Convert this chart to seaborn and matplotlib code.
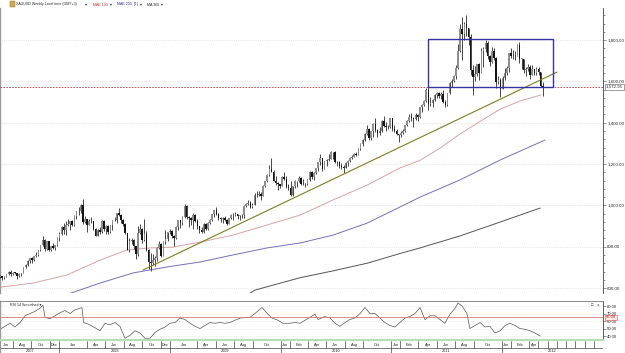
import matplotlib
matplotlib.use('Agg')
import matplotlib.pyplot as plt
from matplotlib.patches import Rectangle
from matplotlib.ticker import MultipleLocator
import numpy as np
import pandas as pd
import seaborn as sns

sns.set_style('white')
plt.rcParams['font.family'] = ['Liberation Sans', 'DejaVu Sans']

# weekly XAUUSD candles, week of 2007-06-11 .. week of 2012-05-14
first_week = pd.Timestamp('2007-06-11')
first_open = 648

close = [655, 656, 650, 655, 666, 680, 668, 674, 673, 660, 669, 673, 700, 710, 733, 743, 738, 755, 762, 784,
         806, 832, 787, 826, 783, 802, 795, 808, 842, 862,
         895, 882, 905, 910, 922, 905, 948, 972, 972, 1000, 920, 933, 905, 925, 923, 887, 853, 882, 873, 926,
         885, 898, 870, 903, 928, 930, 963, 955, 927, 912, 865, 785, 830, 833, 802, 764, 865, 885, 833, 860,
         785, 725, 720, 737, 745, 795, 815, 755, 822, 838, 872, 878,
         853, 840, 895, 928, 914, 942, 995, 942, 940, 930, 953, 923, 898, 882, 870, 912, 885, 914, 928, 958,
         978, 960, 938, 932, 940, 930, 912, 938, 952, 954, 957, 948, 952, 955, 996, 1006, 1012, 990, 1004, 1050,
         1052, 1056, 1045, 1095, 1118, 1147, 1175, 1162, 1119, 1110, 1104, 1096,
         1138, 1130, 1090, 1083, 1050, 1092, 1117, 1118, 1133, 1102, 1105, 1105, 1125, 1161, 1136, 1156, 1180, 1209, 1228, 1177,
         1213, 1219, 1225, 1257, 1256, 1208, 1210, 1191, 1188, 1181, 1204, 1215, 1227, 1236, 1248, 1246, 1275, 1298, 1317, 1346,
         1370, 1325, 1358, 1394, 1366, 1352, 1362, 1406, 1385, 1377, 1380, 1421,
         1369, 1360, 1343, 1341, 1349, 1360, 1388, 1409, 1429, 1421, 1419, 1437, 1429, 1474, 1486, 1504, 1556, 1491, 1493, 1512,
         1536, 1542, 1529, 1539, 1501, 1486, 1542, 1590, 1601, 1628, 1663, 1745, 1852, 1828, 1876, 1856, 1813, 1657, 1622, 1635,
         1682, 1642, 1746, 1755, 1788, 1725, 1696, 1745, 1711, 1598, 1606, 1565,
         1617, 1640, 1665, 1735, 1725, 1722, 1725, 1775, 1710, 1710, 1657, 1662, 1668, 1630, 1660, 1642, 1662, 1645, 1580, 1572.95]

high = [660, 662, 657, 658, 667, 683, 686, 677, 680, 674, 671, 674, 702, 717, 735, 745, 748, 757, 772, 786,
        808, 850, 835, 830, 826, 805, 820, 810, 845, 870,
        898, 915, 925, 933, 925, 930, 953, 975, 990, 1005, 1032, 950, 935, 933, 945, 925, 890, 888, 893, 930,
        930, 905, 904, 905, 930, 945, 965, 988, 960, 935, 915, 868, 840, 840, 835, 805, 900, 910, 890, 933,
        875, 790, 770, 765, 757, 800, 830, 820, 828, 880, 873, 885,
        880, 855, 900, 930, 920, 948, 1005, 1000, 950, 945, 965, 960, 932, 900, 895, 915, 915, 920, 932, 960,
        980, 990, 962, 945, 945, 950, 935, 940, 958, 962, 970, 960, 955, 960, 1000, 1010, 1025, 1020, 1012, 1060,
        1070, 1070, 1063, 1100, 1120, 1150, 1196, 1227, 1170, 1140, 1115, 1105,
        1140, 1162, 1140, 1105, 1120, 1095, 1122, 1120, 1140, 1138, 1128, 1108, 1130, 1165, 1168, 1160, 1180, 1210, 1250, 1230,
        1215, 1225, 1250, 1262, 1260, 1265, 1215, 1215, 1205, 1195, 1210, 1220, 1235, 1242, 1252, 1260, 1280, 1300, 1320, 1350,
        1388, 1375, 1360, 1398, 1425, 1370, 1380, 1415, 1432, 1405, 1390, 1424,
        1425, 1390, 1370, 1345, 1358, 1370, 1390, 1415, 1440, 1445, 1430, 1448, 1440, 1476, 1490, 1510, 1566, 1577, 1525, 1515,
        1540, 1550, 1550, 1550, 1558, 1510, 1545, 1595, 1610, 1630, 1680, 1780, 1880, 1912, 1885, 1921, 1860, 1830, 1680, 1675,
        1685, 1690, 1760, 1765, 1802, 1795, 1730, 1765, 1763, 1720, 1625, 1615,
        1625, 1665, 1675, 1735, 1763, 1750, 1745, 1780, 1792, 1715, 1710, 1670, 1685, 1680, 1677, 1660, 1670, 1670, 1645, 1595]

low = [642, 650, 640, 646, 652, 664, 660, 661, 666, 642, 655, 660, 672, 698, 706, 723, 723, 730, 752, 754,
       777, 805, 780, 784, 780, 780, 790, 786, 805, 830,
       856, 862, 858, 900, 882, 900, 900, 935, 955, 965, 910, 915, 870, 905, 915, 880, 850, 852, 860, 868,
       875, 860, 860, 868, 880, 922, 915, 950, 915, 900, 860, 783, 775, 815, 790, 740, 755, 860, 820, 828,
       780, 690, 681, 712, 705, 730, 790, 748, 755, 815, 830, 862,
       840, 805, 835, 880, 890, 905, 938, 935, 895, 905, 885, 920, 885, 866, 865, 866, 880, 880, 910, 922,
       945, 955, 930, 920, 915, 925, 905, 912, 935, 930, 950, 935, 930, 940, 940, 990, 1000, 985, 985, 1000,
       1040, 1045, 1025, 1045, 1090, 1115, 1140, 1160, 1120, 1100, 1075, 1085,
       1095, 1125, 1085, 1075, 1045, 1045, 1085, 1090, 1115, 1100, 1100, 1088, 1100, 1120, 1130, 1125, 1150, 1165, 1195, 1165,
       1175, 1190, 1215, 1222, 1225, 1205, 1190, 1180, 1178, 1157, 1180, 1190, 1212, 1225, 1236, 1240, 1245, 1270, 1288, 1310,
       1340, 1315, 1318, 1330, 1355, 1330, 1340, 1355, 1380, 1360, 1370, 1375,
       1360, 1355, 1340, 1308, 1330, 1345, 1355, 1385, 1405, 1410, 1380, 1415, 1410, 1425, 1452, 1482, 1500, 1462, 1480, 1475,
       1505, 1520, 1520, 1515, 1495, 1478, 1482, 1540, 1575, 1595, 1610, 1660, 1740, 1705, 1800, 1820, 1775, 1630, 1535, 1600,
       1625, 1605, 1640, 1670, 1740, 1710, 1675, 1690, 1705, 1570, 1585, 1523,
       1565, 1605, 1630, 1645, 1715, 1710, 1705, 1730, 1690, 1660, 1640, 1625, 1650, 1612, 1630, 1630, 1630, 1630, 1575, 1527]

# moving averages (week index, price)
ma100_week = [0, 16.5, 32.5, 48.1, 60.8, 71.7, 82.5, 95.3, 110.8, 126.9, 142.5, 158.0, 174.1, 189.6, 199.1,
              208.5, 217.9, 228.8, 236.8, 246.2, 256.1]
ma100 = [603, 624, 663, 735, 784, 794, 798, 822, 856, 905, 953, 1026, 1098, 1181, 1218,
         1277, 1345, 1415, 1465, 1505, 1534]
ma200_week = [30, 48.1, 63.7, 79.7, 95.3, 110.8, 126.9, 142.5, 158.0, 174.1, 189.6, 199.1, 217.9, 236.8, 258]
ma200 = [560, 624, 673, 702, 726, 760, 794, 818, 856, 914, 992, 1040, 1123, 1219, 1316]
ma365_week = [118, 121.2, 142.5, 158.0, 174.1, 189.6, 199.1, 217.9, 236.8, 255.7]
ma365 = [570, 590, 650, 683, 720, 767, 794, 852, 919, 987]

trend_week = [68.4, 263.7]
trend_price = [687, 1645]
box_week = [202.8, 261.8]
box_price = [1573, 1805]
last_price = 1572.95
price_ticks = [600, 800, 1000, 1200, 1400, 1600, 1800]

# RSI 14 smoothed
rsi_week = [0.9, 3.3, 5.7, 8.0, 10.4, 12.7, 15.1, 17.5, 19.8, 21.2, 22.2, 24.5, 26.9, 29.2, 31.6, 34.0, 36.3,
            38.7, 39.6, 40.4, 42.5, 45.8, 48.1, 50.5, 52.8, 55.2, 57.5, 59.9, 62.3, 64.6, 67.0, 69.3, 71.7,
            74.1, 76.4, 78.8, 81.1, 83.5, 85.8, 88.2, 90.6, 92.9, 95.3, 97.6, 100.0, 102.4, 104.7, 107.1,
            109.4, 114.2, 118.9, 121.2, 124.5, 127.4, 129.2, 132.1, 134.4, 137.7, 140.1, 142.5, 144.8, 147.2,
            149.5, 151.0, 154.2, 156.6, 159.0, 161.3, 163.7, 166.0, 168.4, 170.8, 173.1, 175.5, 177.8, 180.2,
            182.5, 184.9, 187.3, 189.6, 192.0, 194.3, 196.7, 199.1, 201.4, 203.8, 206.1, 208.5, 210.8, 213.2,
            215.6, 217.0, 218.9, 221.2, 222.6, 225.0, 227.4, 229.7, 232.1, 234.4, 236.8, 239.2, 241.5, 243.9,
            246.2, 248.6, 250.9, 253.3, 255.7]
rsi = [49, 53, 57, 52, 58, 67, 70, 73, 77, 81, 65, 63, 67, 71, 74, 70, 75,
       77, 78, 58, 56, 51, 47, 57, 55, 58, 53, 37, 41, 47, 44, 37, 37,
       45, 49, 52, 57, 58, 64, 62, 57, 53, 50, 54, 58, 57, 58, 57,
       58, 64, 65, 70, 78, 69, 64, 61, 57, 57, 58, 57, 61, 65,
       69, 62, 66, 64, 57, 53, 58, 62, 64, 70, 78, 70, 70, 64,
       58, 54, 52, 58, 64, 66, 70, 78, 62, 67, 67, 62, 57, 69,
       77, 84, 80, 70, 50, 54, 58, 52, 53, 44, 47, 54, 57, 54,
       50, 49, 47, 44, 40]
rsi_level = 65
rsi_ticks = [40, 50, 60, 70, 80]

month_label = ['Jun', 'Aug', 'Oct', 'Dec', 'Jan', 'Apr', 'Jun', 'Aug', 'Oct', 'Dec', 'Jan', 'Apr', 'Jun', 'Aug',
               'Oct', 'Jan', 'Feb', 'Apr', 'Jun', 'Aug', 'Oct', 'Jan', 'Feb', 'Apr', 'Jun', 'Aug', 'Oct',
               'Jan', 'Feb', 'Apr', '', '', '', '', '', '', '']
month_start = ['2007-06-01', '2007-08-01', '2007-10-01', '2007-12-01', '2008-01-01', '2008-04-01', '2008-06-01',
               '2008-08-01', '2008-10-01', '2008-12-01', '2009-01-01', '2009-04-01', '2009-06-01', '2009-08-01',
               '2009-10-01', '2010-01-01', '2010-02-01', '2010-04-01', '2010-06-01', '2010-08-01', '2010-10-01',
               '2011-01-01', '2011-02-01', '2011-04-01', '2011-06-01', '2011-08-01', '2011-10-01',
               '2012-01-01', '2012-02-01', '2012-04-01', '2012-05-01', '2012-06-01', '2012-07-01', '2012-08-01',
               '2012-09-01', '2012-10-01', '2012-11-01']
year_label = ['2007', '2008', '2009', '2010', '2011', '2012']
year_start = ['2007-01-01', '2008-01-01', '2009-01-01', '2010-01-01', '2011-01-01', '2012-01-01']


def wk(d):
    return (pd.Timestamp(d) - first_week).days / 7 - 0.3


W, H = 625, 353
x_lo, x_hi = 0.94, 285.4
fig = plt.figure(figsize=(W / 100, H / 100), dpi=100)


def px_box(x0, y0, x1, y1):
    return [x0 / W, 1 - y1 / H, (x1 - x0) / W, (y1 - y0) / H]


def ftext(x, y, s, **kw):
    fig.text(x / W, 1 - y / H, s, va='center', **kw)


ax = fig.add_axes(px_box(0, 8, 603, 293))
ax_rsi = fig.add_axes(px_box(0, 301, 603, 340))
ax_dt = fig.add_axes(px_box(0, 341, 603, 356))

# ---- candles
weeks = np.arange(len(close))
opens = np.array([first_open] + close[:-1], dtype=float)
cl = np.array(close, dtype=float)
hi = np.maximum(np.array(high, dtype=float), np.maximum(opens, cl))
lo = np.minimum(np.array(low, dtype=float), np.minimum(opens, cl))
up = cl >= opens
body_lo = np.minimum(opens, cl)
body_h = np.maximum(np.abs(cl - opens), 2.5)
ax.vlines(weeks, lo, hi, color='#2a2a2a', lw=0.6, zorder=3)
ax.bar(weeks, body_h, bottom=body_lo, width=0.72,
       color=np.where(up, '#8e8e8e', '#141414'), linewidth=0, zorder=4)

sns.lineplot(x=ma100_week, y=ma100, ax=ax, color='#d9a3a3', lw=0.7, estimator=None, sort=False, zorder=2)
sns.lineplot(x=ma200_week, y=ma200, ax=ax, color='#7272b8', lw=0.7, estimator=None, sort=False, zorder=2)
sns.lineplot(x=ma365_week, y=ma365, ax=ax, color='#555555', lw=0.7, estimator=None, sort=False, zorder=2)
sns.lineplot(x=trend_week, y=trend_price, ax=ax, color='#7d7d22', lw=0.8, estimator=None, sort=False, zorder=5)
ax.add_patch(Rectangle((box_week[0], box_price[0]), box_week[1] - box_week[0], box_price[1] - box_price[0],
                       fill=False, ec='#3434a6', lw=1.0, zorder=6))
ax.axhline(last_price, color='#b04040', ls=(0, (2, 1.5)), lw=0.6, zorder=5)

ax.set_xlim(x_lo, x_hi)
ax.set_ylim(576, 1955)
ax.set_xticks([])
ax.set_yticks(price_ticks)
ax.set_yticklabels([f'{v:,.2f}' for v in price_ticks])
ax.yaxis.set_minor_locator(MultipleLocator(40))
ax.yaxis.tick_right()
ax.tick_params(axis='y', which='major', length=2.0, width=0.4, pad=1.0, labelsize=3.2, color='#444444')
ax.tick_params(axis='y', which='minor', length=1.2, width=0.4, color='#444444')
ax.grid(axis='y', color='#d0d0d0', ls=':', lw=0.5)
ax.set_xlabel('')
ax.set_ylabel('')
for s in ['top', 'bottom']:
    ax.spines[s].set_visible(False)
ax.spines['left'].set_color('#9a9a9a')
ax.spines['left'].set_linewidth(1.0)
ax.spines['right'].set_color('#444444')
ax.spines['right'].set_linewidth(0.6)
ax.text(1.005, last_price, f'{last_price:,.2f}', transform=ax.get_yaxis_transform(), fontsize=3.2,
        va='center', ha='left', clip_on=False,
        bbox=dict(boxstyle='square,pad=0.2', fc='white', ec='#555555', lw=0.4))

# ---- RSI panel
sns.lineplot(x=rsi_week, y=rsi, ax=ax_rsi, color='#555555', lw=0.5, estimator=None, sort=False)
ax_rsi.axhline(rsi_level, color='#e07878', lw=0.6)
ax_rsi.set_xlim(x_lo, x_hi)
ax_rsi.set_ylim(34.7, 86.7)
ax_rsi.set_xticks([])
ax_rsi.set_yticks(rsi_ticks)
ax_rsi.set_yticklabels([f'{v:.2f}' for v in rsi_ticks])
ax_rsi.yaxis.tick_right()
ax_rsi.tick_params(axis='y', length=2, width=0.4, pad=1.0, labelsize=3.0, color='#444444')
ax_rsi.grid(axis='y', color='#e0e0e0', ls=':', lw=0.5)
ax_rsi.set_xlabel('')
ax_rsi.set_ylabel('')
ax_rsi.spines['top'].set_color('#777777')
ax_rsi.spines['top'].set_linewidth(0.6)
ax_rsi.spines['left'].set_color('#9a9a9a')
ax_rsi.spines['left'].set_linewidth(1.0)
ax_rsi.spines['right'].set_color('#444444')
ax_rsi.spines['right'].set_linewidth(0.6)
ax_rsi.spines['bottom'].set_color('#b8dcb8')
ax_rsi.spines['bottom'].set_linewidth(1.6)
ax_rsi.text(1.005, rsi_level, f'{rsi_level:.2f}', transform=ax_rsi.get_yaxis_transform(), fontsize=3.0,
            va='center', ha='left', color='#b03030', clip_on=False,
            bbox=dict(boxstyle='square,pad=0.15', fc='#fde9e2', ec='#d05050', lw=0.4))

# ---- date bar
ax_dt.set_xlim(x_lo, x_hi)
ax_dt.set_ylim(15, 0)
ax_dt.axis('off')
m_edges = [max(wk(d), x_lo) for d in month_start] + [x_hi]
for i, lab in enumerate(month_label):
    a, b = m_edges[i], m_edges[i + 1]
    ax_dt.plot([b, b], [0, 7], color='#444444', lw=0.5)
    if lab:
        ax_dt.text((a + b) / 2, 3.7, lab, ha='center', va='center', fontsize=2.8, color='#222222')
y_edges = [max(wk(d), x_lo) for d in year_start] + [x_hi]
for i, lab in enumerate(year_label):
    a, b = y_edges[i], y_edges[i + 1]
    ax_dt.plot([b, b], [7, 15], color='#444444', lw=0.5)
    ax_dt.text((a + b) / 2, 10.2, lab, ha='center', va='center', fontsize=2.8, color='#222222')
ax_dt.plot([x_lo, x_hi], [7, 7], color='#444444', lw=0.5)
ax_dt.plot([x_lo, x_lo], [0, 15], color='#9a9a9a', lw=1.0)

# ---- header texts
fig.patches.append(Rectangle((10 / W, 1 - 7 / H), 5 / W, 6 / H, transform=fig.transFigure,
                             fc='#d4aa50', ec='#8a6a20', lw=0.3))
ftext(16, 4.5, 'XAUUSD Weekly Local time (GMT+3)', fontsize=2.65, color='#222222')
ftext(85, 4.5, '▾', fontsize=2.8, color='#333333')
ftext(93, 4.5, 'MAE 100', fontsize=2.65, color='#c03030')
ftext(110, 4.5, '▾', fontsize=2.8, color='#333333')
ftext(117, 4.5, 'MAE 200, [1]', fontsize=2.65, color='#3030a0')
ftext(140, 4.5, '▾', fontsize=2.8, color='#333333')
ftext(147, 4.5, 'MA 365', fontsize=2.65, color='#222222')
ftext(161, 4.5, '▾', fontsize=2.8, color='#333333')
ftext(10, 305.5, 'RSI 14 Smoothed ▾', fontsize=2.65, color='#222222')
ftext(591, 305.5, '□', fontsize=3.0, color='#333333')
ftext(597, 305.5, '×', fontsize=3.3, color='#333333')

fig.savefig('out.png', dpi=100)
